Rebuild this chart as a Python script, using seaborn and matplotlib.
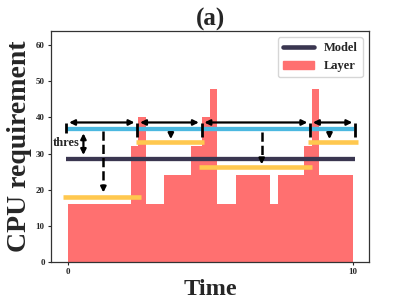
import numpy as np
import matplotlib
matplotlib.use("Agg")
import matplotlib.pyplot as plt
import seaborn as sns
from matplotlib.lines import Line2D
from matplotlib.patches import Patch

# Layer CPU requirement (step profile): bin edges on the time axis and heights
layer_edges = [0, 2.19, 2.44, 2.72, 3.37, 4.31, 4.70, 4.98, 5.22, 5.88,
               7.07, 7.36, 8.27, 8.54, 8.80, 10.0]
layer_cpu = [16, 32, 40, 16, 24, 32, 40, 48, 16, 24, 16, 24, 32, 48, 24]

# Model-level requirement
model_cpu = 28.5
model_span = [-0.07, 10.07]

# Upper (blue) level and segment boundaries
upper_cpu = 36.7
upper_span = [-0.03, 10.04]
seg_bounds = [-0.07, 2.42, 4.68, 8.49, 10.07]
tick_low = [35.8, 34.5, 34.7, 34.7, 34.7]
tick_high = 38.4
span_arrow_y = 38.6

# Per-segment (orange) levels
seg_cpu = [18.0, 33.1, 26.2, 33.1]
seg_start = [-0.17, 2.38, 4.60, 8.40]
seg_end = [2.54, 4.78, 8.57, 10.17]

# Dashed drop arrows from the upper level to the segment levels
drop_x = [1.23, 3.60, 6.79, 9.17]
drop_top = [36.3, 36.3, 36.1, 36.3]
drop_tip = [19.2, 34.0, 27.0, 34.0]

# Threshold arrow
thres_x = 0.53
thres_range = [35.6, 29.6]

RED = "#ff7070"
NAVY = "#3a3650"
BLUE = "#4bb8e0"
ORANGE = "#ffc84f"
HEAD2 = "<|-|>,head_length=0.4,head_width=0.2"
HEAD1 = "-|>,head_length=0.4,head_width=0.2"

sns.set_style("ticks")
plt.rcParams["font.family"] = ["Liberation Serif", "DejaVu Serif"]
plt.rcParams["font.weight"] = "bold"

fig = plt.figure(figsize=(4.11, 3.08), dpi=100)
ax = fig.add_axes([0.124, 0.150, 0.774, 0.750])

# layer bars via histogram weights
mids = [(a + b) / 2 for a, b in zip(layer_edges[:-1], layer_edges[1:])]
sns.histplot(x=mids, weights=layer_cpu, bins=layer_edges, color=RED,
             alpha=1.0, linewidth=0, ax=ax, zorder=1)

ax.plot(model_span, [model_cpu, model_cpu], color=NAVY, lw=3.1,
        solid_capstyle="butt", zorder=3)
ax.plot(upper_span, [upper_cpu, upper_cpu], color=BLUE, lw=3.1,
        solid_capstyle="butt", zorder=3)

for x0, x1, y in zip(seg_start, seg_end, seg_cpu):
    ax.plot([x0, x1], [y, y], color=ORANGE, lw=3.3, solid_capstyle="butt", zorder=3)

# boundary ticks
ax.vlines(seg_bounds, tick_low, tick_high, color="black", lw=2, zorder=4)

# double arrows between boundaries
for a, b in zip(seg_bounds[:-1], seg_bounds[1:]):
    ax.annotate("", xy=(a, span_arrow_y), xytext=(b, span_arrow_y),
                arrowprops=dict(arrowstyle=HEAD2, color="black", lw=1.6,
                                shrinkA=2, shrinkB=2, mutation_scale=8),
                zorder=5)

# dashed drops: dashed shaft (drawn top-down) plus a short solid head
head = 1.4
for x, top, tip in zip(drop_x, drop_top, drop_tip):
    if top - tip > head + 0.5:
        ax.plot([x, x], [top, tip + head], color="black", lw=1.8,
                linestyle="--", dash_capstyle="butt", zorder=5)
        start = tip + head
    else:
        start = top
    ax.annotate("", xy=(x, tip), xytext=(x, start),
                arrowprops=dict(arrowstyle=HEAD1, color="black", lw=1.6,
                                shrinkA=0, shrinkB=0, mutation_scale=8),
                zorder=5)

# threshold arrow
ax.annotate("", xy=(thres_x, thres_range[1]), xytext=(thres_x, thres_range[0]),
            arrowprops=dict(arrowstyle=HEAD2, color="black", lw=1.6,
                            shrinkA=0, shrinkB=0, mutation_scale=8),
            zorder=5)
ax.text(0.39, 32.8, "thres", ha="right", va="center", fontsize=9,
        fontweight="bold", zorder=6)

ax.set_xlim(-0.61, 10.56)
ax.set_ylim(0, 64)
ax.set_xticks([0, 10])
ax.set_yticks(np.arange(0, 61, 10))
ax.tick_params(labelsize=6.5, length=2.5, width=0.8, pad=2)
for lab in ax.get_xticklabels() + ax.get_yticklabels():
    lab.set_fontweight("bold")
for sp in ax.spines.values():
    sp.set_visible(True)
    sp.set_linewidth(0.9)
    sp.set_color("#333333")

ax.set_title("(a)", fontsize=18, fontweight="bold", pad=1)
ax.set_xlabel("Time", fontsize=17.5, fontweight="bold", labelpad=2)
ax.set_ylabel("CPU requirement", fontsize=20, fontweight="bold", labelpad=3)

handles = [Line2D([], [], color=NAVY, lw=3.3), Patch(color=RED)]
leg = ax.legend(handles, ["Model", "Layer"], loc="upper right",
                handlelength=2.5, frameon=True, prop={"weight": "bold", "size": 9})
leg.get_frame().set_edgecolor("#cccccc")

fig.savefig("out.png", dpi=100)
